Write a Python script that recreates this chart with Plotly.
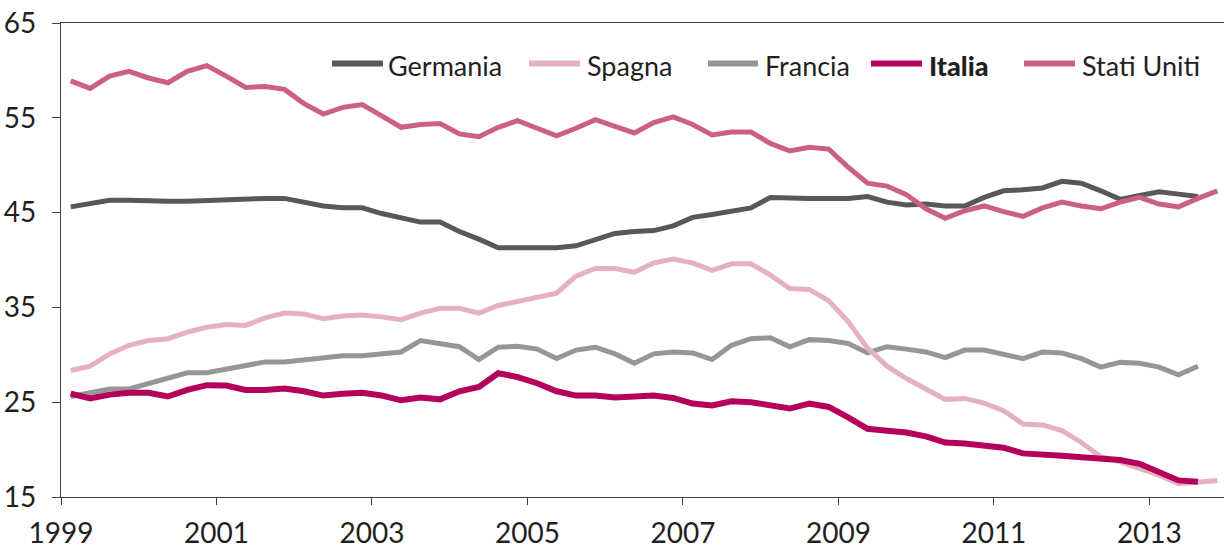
import plotly.graph_objects as go

# Quarterly series, 1999 Q1 onwards
anni = list(range(1999, 2014))
trimestri = [1, 2, 3, 4]

germania = [45.6, 45.9, 46.3, 46.3, 46.2, 46.2, 46.2, 46.3, 46.4, 46.5,
            46.5, 46.5, 46.1, 45.7, 45.5, 45.5, 44.9, 44.4, 44.0, 44.0,
            43.0, 42.2, 41.3, 41.3, 41.3, 41.3, 41.5, 42.2, 42.8, 43.0,
            43.1, 43.6, 44.5, 44.8, 45.1, 45.5, 46.6, 46.5, 46.5, 46.5,
            46.5, 46.7, 46.1, 45.8, 45.9, 45.7, 45.7, 46.6, 47.3, 47.4,
            47.6, 48.3, 48.1, 47.3, 46.4, 46.8, 47.2, 46.95, 46.7]
spagna = [28.35, 28.8, 30.1, 31.0, 31.5, 31.7, 32.4, 32.9, 33.2, 33.1,
          33.9, 34.4, 34.3, 33.8, 34.1, 34.2, 34.0, 33.7, 34.4, 34.9,
          34.9, 34.4, 35.2, 35.6, 36.1, 36.5, 38.3, 39.1, 39.1, 38.7,
          39.7, 40.1, 39.7, 38.9, 39.6, 39.6, 38.4, 37.0, 36.9, 35.7,
          33.5, 30.7, 28.8, 27.5, 26.4, 25.3, 25.4, 24.9, 24.1, 22.7,
          22.6, 22.0, 20.75, 19.25, 18.7, 18.0, 17.3, 16.4, 16.6, 16.75]
francia = [25.6, 26.0, 26.4, 26.4, 27.0, 27.6, 28.1, 28.1, 28.5, 28.9,
           29.25, 29.25, 29.5, 29.7, 29.9, 29.9, 30.1, 30.3, 31.5, 31.2,
           30.85, 29.5, 30.8, 30.9, 30.6, 29.6, 30.5, 30.8, 30.1, 29.1,
           30.1, 30.3, 30.2, 29.5, 31.0, 31.7, 31.8, 30.85, 31.6, 31.5,
           31.2, 30.2, 30.85, 30.6, 30.3, 29.7, 30.5, 30.5, 30.1, 29.6,
           30.3, 30.2, 29.6, 28.7, 29.2, 29.1, 28.7, 27.9, 28.8]
italia = [25.9, 25.4, 25.8, 26.0, 26.0, 25.6, 26.3, 26.8, 26.75, 26.3,
          26.3, 26.45, 26.15, 25.7, 25.9, 26.0, 25.7, 25.2, 25.5, 25.3,
          26.15, 26.6, 28.06, 27.65, 27.0, 26.15, 25.7, 25.7, 25.5, 25.6,
          25.7, 25.45, 24.86, 24.65, 25.1, 25.0, 24.6, 24.33, 24.86, 24.5,
          23.4, 22.2, 22.0, 21.8, 21.4, 20.75, 20.65, 20.5, 20.2, 19.6,
          19.4, 19.35, 19.2, 19.1, 18.9, 18.5, 17.55, 16.75, 16.6]
stati_uniti = [58.9, 58.1, 59.4, 59.9, 59.2, 58.7, 59.9, 60.5, 59.4, 58.2,
               58.3, 58.0, 56.5, 55.4, 56.1, 56.4, 55.2, 54.0, 54.3, 54.4,
               53.3, 53.0, 54.0, 54.7, 53.9, 53.1, 53.9, 54.8, 54.1, 53.4,
               54.5, 55.1, 54.3, 53.2, 53.5, 53.5, 52.3, 51.5, 51.9, 51.7,
               49.8, 48.1, 47.8, 46.9, 45.4, 44.4, 45.2, 45.7, 45.1, 44.6,
               45.5, 46.1, 45.7, 45.4, 46.1, 46.6, 45.9, 45.6, 46.5, 47.3]

y_ticks = [15, 25, 35, 45, 55, 65]
x_ticks = [1999, 2001, 2003, 2005, 2007, 2009, 2011, 2013]

# each quarter is placed at its midpoint on a continuous year axis
x_q = [a + (q - 0.5) / 4 for a in anni for q in trimestri]

serie = [
    ("Francia", francia, "#969699", 5, False),
    ("Spagna", spagna, "#e5b1c2", 5, False),
    ("Germania", germania, "#58585a", 5, False),
    ("Stati Uniti", stati_uniti, "#cb5f87", 5, False),
    ("Italia", italia, "#b5005b", 6, True),
]

FONT = "Lato"
TXT = "#231f20"

fig = go.Figure()
for nome, vals, col, w, _ in serie:
    fig.add_trace(go.Scatter(
        x=x_q[:len(vals)], y=vals, mode="lines", name=nome,
        line=dict(color=col, width=w), showlegend=False,
        hoverinfo="x+y+name",
    ))

# plot area in pixels (for placing the legend row)
W, H = 1224, 549
ML, MR, MT, MB = 61, 0, 23, 47
PW, PH = W - ML - MR, H - MT - MB

def px_x(p):
    return (p - ML) / PW

def px_y(p):
    return (H - MB - p) / PH

legenda = [  # name, sample start, sample end, text start (px)
    ("Germania", 332, 383, 386),
    ("Spagna", 529, 580, 585),
    ("Francia", 708, 758, 763),
    ("Italia", 871, 922, 927),
    ("Stati Uniti", 1024, 1075, 1080),
]
stili = {s[0]: s for s in serie}
ly = 64
for nome, x0, x1, xt in legenda:
    _, _, col, w, bold = stili[nome]
    fig.add_shape(type="line", xref="paper", yref="paper",
                  x0=px_x(x0), x1=px_x(x1), y0=px_y(ly), y1=px_y(ly),
                  line=dict(color=col, width=6))
    fig.add_annotation(xref="paper", yref="paper", x=px_x(xt), y=px_y(ly + 2),
                       xanchor="left", yanchor="middle", showarrow=False,
                       text=nome,
                       font=dict(family=FONT, size=27, color=TXT,
                                 weight=900 if bold else 400))

fig.update_layout(
    width=W, height=H,
    margin=dict(l=ML, r=MR, t=MT, b=MB, pad=0),
    paper_bgcolor="white", plot_bgcolor="white",
    showlegend=False,
    font=dict(family=FONT, color=TXT),
)
fig.update_xaxes(
    range=[1999, 1999 + PW / 77.74],
    tickmode="array", tickvals=x_ticks, ticktext=[str(t) for t in x_ticks],
    showgrid=False, zeroline=False,
    showline=True, linecolor="#404040", linewidth=1.4, mirror=True,
    ticks="outside", ticklen=7, tickcolor="#404040", tickwidth=1.4,
    tickfont=dict(family=FONT, size=28, color=TXT),
    ticklabelstandoff=4,
)
fig.update_yaxes(
    range=[15, 65],
    tickmode="array", tickvals=y_ticks,
    showgrid=False, zeroline=False,
    showline=True, linecolor="#404040", linewidth=1.4,
    ticks="outside", ticklen=8, tickcolor="#404040", tickwidth=1.4,
    tickfont=dict(family=FONT, size=28, color=TXT),
    ticklabelstandoff=10,
)

fig.write_html("out.html")
